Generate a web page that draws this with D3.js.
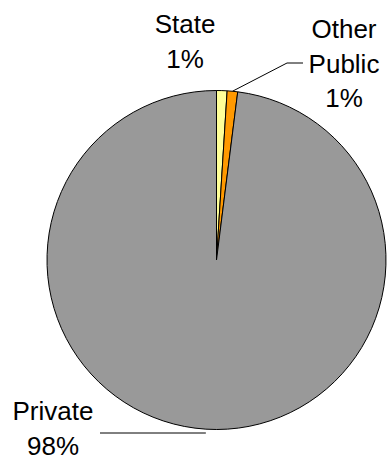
<!DOCTYPE html>
<html>
<head>
<meta charset="utf-8">
<script src="https://cdn.jsdelivr.net/npm/d3@7"></script>
<style>
  html, body { margin: 0; padding: 0; background: #fff; }
  svg { display: block; }
  text { font-family: Arial, "Liberation Sans", sans-serif; fill: #000; }
</style>
</head>
<body>
<svg id="chart" width="387" height="461"></svg>
<script>
// Share of ownership, percent
const categories = ["State", "Other Public", "Private"];
const values = [1, 1, 98];
const labelLines = [["State", "1%"], ["Other", "Public", "1%"], ["Private", "98%"]];
const colors = ["#FFFF99", "#FF9900", "#999999"];

const svg = d3.select("#chart");
const cx = 216.5, cy = 260, r = 169.5;

const pie = d3.pie().sort(null).value(d => d)(values);
const arc = d3.arc().innerRadius(0).outerRadius(r);
const color = d3.scaleOrdinal().domain(categories).range(colors);

const g = svg.append("g").attr("transform", `translate(${cx},${cy})`);

g.selectAll("path")
  .data(pie)
  .join("path")
  .attr("d", arc)
  .attr("fill", (d, i) => color(categories[i]))
  .attr("stroke", "#000")
  .attr("stroke-width", 1)
  .attr("stroke-linejoin", "round");

// label placement (absolute page coordinates)
const fontSize = 26;
const lineH = 34.5;
const labelPos = [
  { x: 185, y: 33 },
  { x: 344, y: 38 },
  { x: 53, y: 420 }
];

labelLines.forEach((lines, i) => {
  const t = svg.append("text")
    .attr("text-anchor", "middle")
    .attr("font-size", fontSize);
  lines.forEach((s, j) => {
    t.append("tspan")
      .attr("x", labelPos[i].x)
      .attr("y", labelPos[i].y + j * lineH)
      .text(s);
  });
});

// leader lines from slice mid-arcs to the labels
function arcMid(d) {
  const a = (d.startAngle + d.endAngle) / 2;
  return [cx + r * Math.sin(a), cy - r * Math.cos(a)];
}
const line = d3.line();
const pOther = arcMid(pie[1]);
svg.append("path")
  .attr("d", line([pOther, [287, 63], [303, 63]]))
  .attr("fill", "none").attr("stroke", "#000").attr("stroke-width", 1);

const pPriv = arcMid(pie[2]);
svg.append("path")
  .attr("d", line([[100, 433], [pPriv[0], 433]]))
  .attr("fill", "none").attr("stroke", "#000").attr("stroke-width", 1);
</script>
</body>
</html>
